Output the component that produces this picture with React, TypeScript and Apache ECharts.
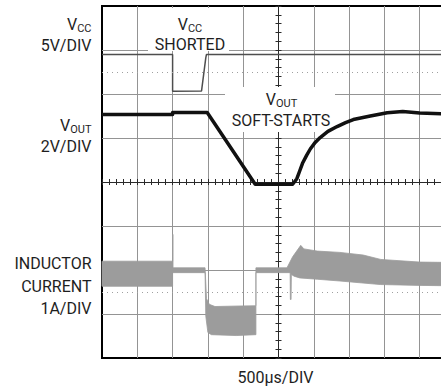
import React, { useEffect, useRef } from "react";
import * as echarts from "echarts";

// Time in ms relative to the scope trigger (centre), 500 µs/DIV
const TIME_MIN = -2.5;
const TIME_MAX = 2.5;
const TIME_PER_DIV = 0.5;
const DIV_MIN = -4;
const DIV_MAX = 4;

// Channel scaling (units per division) and ground offsets (in divisions)
const VCC_PER_DIV = 5;
const VCC_ZERO_DIV = 1.9;
const VOUT_PER_DIV = 2;
const VOUT_ZERO_DIV = -0.05;
const IL_PER_DIV = 1;
const IL_ZERO_DIV = -2.5;

// Dotted reference markers (divisions)
const REF_LEVELS = [2.5, -2.5];

// VCC trace (V)
const vccTime = [-2.5, -1.5, -1.5, -1.09, -1.03, -1.02, 2.5];
const vccVolts = [5.0, 5.0, 0.82, 0.85, 4.6, 5.0, 5.0];

// VOUT trace (V)
const voutTime = [
  -2.5, -1.5, -1.5, -1.01, -0.33, 0.2, 0.26, 0.3, 0.34, 0.4, 0.45, 0.52, 0.59,
  0.7, 0.83, 0.95, 1.06, 1.3, 1.54, 1.76, 2.0, 2.5,
];
const voutVolts = [
  3.17, 3.17, 3.26, 3.26, 0.0, 0.0, 0.25, 0.6, 0.95, 1.32, 1.6, 1.9, 2.12,
  2.4, 2.62, 2.8, 2.94, 3.1, 3.25, 3.3, 3.24, 3.17,
];

// Inductor current envelope (A)
const ilUpperTime = [
  -2.5, -1.5, -1.5, -1.494, -1.494, -1.04, -1.02, -0.98, -0.9, -0.32, -0.32,
  0.12, 0.2, 0.315, 0.36, 0.55, 0.87, 1.2, 1.45, 2.0, 2.5,
];
const ilUpperAmps = [
  0.7, 0.7, 1.31, 1.31, 0.55, 0.55, -0.15, -0.28, -0.33, -0.31, 0.55, 0.55,
  0.8, 1.06, 0.98, 0.93, 0.9, 0.84, 0.74, 0.68, 0.67,
];
const ilLowerTime = [
  -2.5, -1.5, -1.5, -1.04, -1.03, -1.0, -0.95, -0.6, -0.32, -0.32, 0.165,
  0.168, 0.178, 0.182, 0.22, 0.3, 0.55, 0.87, 1.44, 2.0, 2.5,
];
const ilLowerAmps = [
  0.13, 0.13, 0.44, 0.44, -0.55, -0.92, -0.97, -0.99, -0.97, 0.44, 0.44,
  -0.17, -0.17, 0.4, 0.36, 0.32, 0.29, 0.25, 0.17, 0.15, 0.14,
];

const FONT = "Roboto";
const TXT = "#1e1e1e";
const MAIN = 16;
const SUB = 11;

const toDiv = (v: number, perDiv: number, zero: number) => v / perDiv + zero;

let measureCtx: CanvasRenderingContext2D | null = null;
function measure(text: string, size: number): number {
  if (!measureCtx) measureCtx = document.createElement("canvas").getContext("2d");
  if (!measureCtx) return text.length * size * 0.6;
  measureCtx.font = `${size}px ${FONT}`;
  return measureCtx.measureText(text).width;
}

// text placed by its baseline (Roboto central baseline ≈ 0.34em above alphabetic)
function txt(x: number, baseline: number, text: string, align: string, size = MAIN) {
  return {
    type: "text",
    x,
    y: baseline - 0.34 * size,
    z: 100,
    style: {
      text,
      fill: TXT,
      fontFamily: FONT,
      fontSize: size,
      align,
      verticalAlign: "middle",
    },
  };
}

// "V" + subscript, anchored right or centre
function subLabel(x: number, baseline: number, sub: string, anchor: "right" | "center") {
  const wV = measure("V", MAIN);
  const wS = measure(sub, SUB);
  const left = anchor === "right" ? x - wV - wS : x - (wV + wS) / 2;
  return [
    txt(left, baseline, "V", "left", MAIN),
    txt(left + wV, baseline + 2, sub, "left", SUB),
  ];
}

function box(x: number, y: number, w: number, h: number) {
  return {
    type: "rect",
    z: 1,
    shape: { x, y, width: w, height: h },
    style: { fill: "#ffffff" },
  };
}

function buildOption(): any {
  const vccData = vccTime.map((t, i) => [t, toDiv(vccVolts[i], VCC_PER_DIV, VCC_ZERO_DIV)]);
  const voutData = voutTime.map((t, i) => [t, toDiv(voutVolts[i], VOUT_PER_DIV, VOUT_ZERO_DIV)]);
  const upper = ilUpperTime.map((t, i) => [t, toDiv(ilUpperAmps[i], IL_PER_DIV, IL_ZERO_DIV)]);
  const lower = ilLowerTime.map((t, i) => [t, toDiv(ilLowerAmps[i], IL_PER_DIV, IL_ZERO_DIV)]);

  const tick = { show: true, length: 3, lineStyle: { color: "#2a2a2a", width: 1 } };
  const minor = { show: true, splitNumber: 5, length: 3, lineStyle: { color: "#2a2a2a", width: 1 } };
  const split = {
    show: true,
    showMinLine: false,
    showMaxLine: false,
    lineStyle: { color: "#949494", width: 1 },
  };
  const axisLine = { show: true, onZero: true, lineStyle: { color: "#2a2a2a", width: 1 } };

  return {
    animation: false,
    backgroundColor: "#ffffff",
    grid: {
      left: 102,
      top: 6,
      width: 353,
      height: 352,
      show: true,
      borderColor: "#000",
      borderWidth: 2,
      backgroundColor: "#fff",
    },
    xAxis: [
      {
        type: "value",
        min: TIME_MIN,
        max: TIME_MAX,
        interval: TIME_PER_DIV,
        position: "bottom",
        axisLine,
        axisTick: tick,
        minorTick: minor,
        axisLabel: { show: false },
        splitLine: split,
      },
      {
        type: "value",
        min: TIME_MIN,
        max: TIME_MAX,
        interval: TIME_PER_DIV,
        position: "top",
        axisLine,
        axisTick: tick,
        minorTick: minor,
        axisLabel: { show: false },
        splitLine: { show: false },
      },
    ],
    yAxis: [
      {
        type: "value",
        min: DIV_MIN,
        max: DIV_MAX,
        interval: 1,
        position: "left",
        axisLine,
        axisTick: tick,
        minorTick: minor,
        axisLabel: { show: false },
        splitLine: split,
      },
      {
        type: "value",
        min: DIV_MIN,
        max: DIV_MAX,
        interval: 1,
        position: "right",
        axisLine,
        axisTick: tick,
        minorTick: minor,
        axisLabel: { show: false },
        splitLine: { show: false },
      },
    ],
    series: [
      {
        type: "custom",
        name: "INDUCTOR CURRENT",
        coordinateSystem: "cartesian2d",
        silent: true,
        z: 2,
        data: [[0, 0]],
        renderItem: (_params: any, api: any) => {
          const pts = [
            ...upper.map((p) => api.coord(p)),
            ...lower.slice().reverse().map((p) => api.coord(p)),
          ];
          return {
            type: "polygon",
            shape: { points: pts },
            style: { fill: "#9c9c9c", stroke: "#9c9c9c", lineWidth: 0.8 },
          };
        },
      },
      {
        type: "line",
        name: "VCC",
        data: vccData,
        symbol: "none",
        silent: true,
        z: 3,
        lineStyle: { color: "#4e4e4e", width: 1.5 },
        markLine: {
          silent: true,
          symbol: ["none", "none"],
          label: { show: false },
          lineStyle: { color: "#a0a0a0", type: [1, 4], width: 1 },
          data: REF_LEVELS.map((v) => ({ yAxis: v })),
        },
      },
      {
        type: "line",
        name: "VOUT",
        data: voutData,
        symbol: "none",
        silent: true,
        z: 4,
        lineStyle: { color: "#111", width: 3.5, join: "round" },
      },
    ],
    graphic: [
      box(148, 8, 81, 43),
      box(225, 87, 110, 45),
      ...subLabel(91.5, 30, "CC", "right"),
      txt(91.5, 50.5, "5V/DIV", "right"),
      ...subLabel(91.5, 131, "OUT", "right"),
      txt(91.5, 152, "2V/DIV", "right"),
      txt(91.5, 269, "INDUCTOR", "right"),
      txt(91.5, 292, "CURRENT", "right"),
      txt(91.5, 314, "1A/DIV", "right"),
      ...subLabel(190, 30, "CC", "center"),
      txt(190, 50, "SHORTED", "center"),
      ...subLabel(281.5, 105, "OUT", "center"),
      txt(281, 126, "SOFT-STARTS", "center"),
      txt(275.5, 383, "500µs/DIV", "center"),
    ],
  };
}

export default function App() {
  const ref = useRef<HTMLDivElement>(null);
  useEffect(() => {
    if (!ref.current) return;
    const chart = echarts.init(ref.current, null, { renderer: "svg" });
    chart.setOption(buildOption());
    return () => chart.dispose();
  }, []);
  return (
    <div
      style={{
        position: "fixed",
        left: 0,
        top: 0,
        width: 441,
        height: 389,
        overflow: "hidden",
        background: "#fff",
      }}
    >
      <div ref={ref} style={{ width: 480, height: 389 }} />
    </div>
  );
}
